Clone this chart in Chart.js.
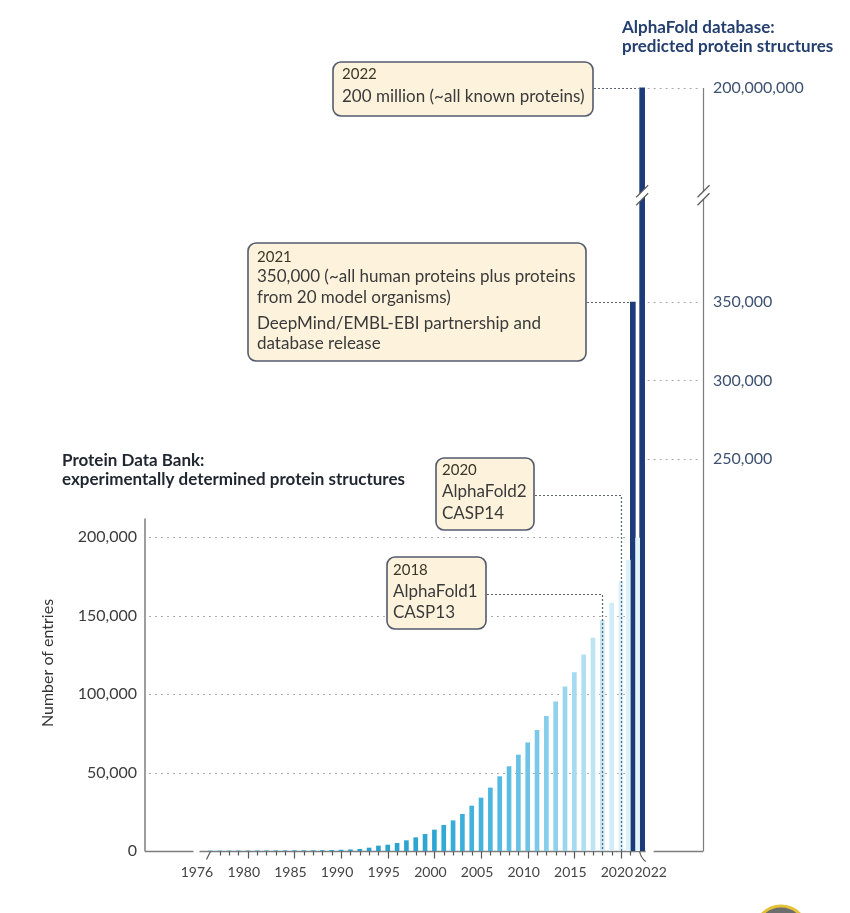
<!DOCTYPE html>
<html>
<head>
<meta charset="utf-8">
<title>Protein structures: PDB vs AlphaFold</title>
<script src="https://cdn.jsdelivr.net/npm/chart.js@4.4.0/dist/chart.umd.min.js"></script>
<style>
  html, body { margin: 0; padding: 0; background: #fff; }
  canvas { display: block; }
</style>
</head>
<body>
<canvas id="chart" width="850" height="913"></canvas>
<script>
// --- data -------------------------------------------------------------
const years = [1976, 1977, 1978, 1979, 1980, 1981, 1982, 1983, 1984, 1985,
  1986, 1987, 1988, 1989, 1990, 1991, 1992, 1993, 1994, 1995,
  1996, 1997, 1998, 1999, 2000, 2001, 2002, 2003, 2004, 2005,
  2006, 2007, 2008, 2009, 2010, 2011, 2012, 2013, 2014, 2015,
  2016, 2017, 2018, 2019, 2020, 2021, 2022];

// Protein Data Bank, cumulative number of entries
const pdbEntries = [13, 23, 38, 52, 69, 85, 122, 152, 176, 196,
  212, 238, 285, 398, 564, 772, 1100, 1900, 3200, 3800,
  4900, 6600, 8500, 10600, 13400, 16400, 19300, 23400, 28700, 33800,
  40200, 47400, 53800, 61200, 69000, 76900, 85800, 95100, 104700, 113700,
  125000, 135800, 147000, 158000, 172000, 185500, 199500];

// AlphaFold database
const afYears = [2021, 2022];
const afEntries = [350000, 200000000];

const leftTicks = [0, 50000, 100000, 150000, 200000];
const rightTicks = [250000, 300000, 350000, 200000000];
const xTickLabels = [1980, 1985, 1990, 1995, 2000, 2005, 2010, 2015, 2020];
const xEndLabels = [1976, 2022];

const noteYears = [2022, 2021, 2020, 2018];
const noteTexts = [
  ['2022', '200 million (~all known proteins)'],
  ['2021', '350,000 (~all human proteins plus proteins', 'from 20 model organisms)',
   'DeepMind/EMBL-EBI partnership and', 'database release'],
  ['2020', 'AlphaFold2', 'CASP14'],
  ['2018', 'AlphaFold1', 'CASP13']
];

// --- look -------------------------------------------------------------
const FONT = 'Lato, "Open Sans", sans-serif';
const NAVY = '#1c3b78';
const shadeStops = [[1990, [42, 158, 201]], [2000, [46, 166, 211]], [2006, [76, 182, 223]],
  [2010, [111, 196, 230]], [2014, [154, 213, 238]], [2017, [189, 228, 243]],
  [2020, [217, 240, 248]], [2022, [226, 244, 250]]];

function shade(yr) {
  if (yr <= shadeStops[0][0]) return `rgb(${shadeStops[0][1]})`;
  for (let i = 1; i < shadeStops.length; i++) {
    const [y1, c1] = shadeStops[i];
    const [y0, c0] = shadeStops[i - 1];
    if (yr <= y1) {
      const t = (yr - y0) / (y1 - y0);
      return 'rgb(' + c0.map((c, k) => Math.round(c + (c1[k] - c) * t)).join(',') + ')';
    }
  }
  return `rgb(${shadeStops[shadeStops.length - 1][1]})`;
}

// note boxes: x, y, w, h, text inset, line offsets
const boxes = {
  2022: { x: 333, y: 62, w: 260, h: 54, pad: 9, rows: [12, 35] },
  2021: { x: 248, y: 243, w: 338, h: 118, pad: 9, rows: [14, 34, 55, 81, 101] },
  2020: { x: 436, y: 458, w: 98, h: 72, pad: 6, rows: [12, 34, 56] },
  2018: { x: 387, y: 557, w: 99, h: 72, pad: 6, rows: [13, 35, 56] }
};

// --- broken linear scale (0..420k below the break, ~200M above) -------
const LOW_MAX = 420000;
const LOW_FRAC = 0.8435;
const UP_MIN = 199000000;
const UP_MAX = 200172000;

class BrokenScale extends Chart.LinearScale {
  static id = 'broken';
  static defaults = Chart.LinearScale.defaults;
  breakPixel() {
    return this.bottom - (this.bottom - this.top) * LOW_FRAC;
  }
  getPixelForValue(value) {
    const brk = this.breakPixel();
    if (value <= LOW_MAX) return this.bottom - (value / LOW_MAX) * (this.bottom - brk);
    const f = (value - UP_MIN) / (UP_MAX - UP_MIN);
    return brk - f * (brk - this.top);
  }
  getValueForPixel(pixel) {
    const brk = this.breakPixel();
    if (pixel >= brk) return (this.bottom - pixel) / (this.bottom - brk) * LOW_MAX;
    return UP_MIN + (brk - pixel) / (brk - this.top) * (UP_MAX - UP_MIN);
  }
}
Chart.register(BrokenScale);

// --- drawing helpers ---------------------------------------------------
function seg(ctx, x1, y1, x2, y2) {
  ctx.beginPath(); ctx.moveTo(x1, y1); ctx.lineTo(x2, y2); ctx.stroke();
}

function breakMark(ctx, cx, cy, half) {
  ctx.save();
  ctx.fillStyle = '#fff';
  ctx.beginPath();
  ctx.moveTo(cx - half, cy + 6 - 4);
  ctx.lineTo(cx + half, cy - 6 - 4);
  ctx.lineTo(cx + half, cy - 6 + 4);
  ctx.lineTo(cx - half, cy + 6 + 4);
  ctx.closePath();
  ctx.fill();
  ctx.strokeStyle = '#5a5a5a';
  ctx.lineWidth = 1.2;
  seg(ctx, cx - half, cy + 6 - 4, cx + half, cy - 6 - 4);
  seg(ctx, cx - half, cy + 6 + 4, cx + half, cy - 6 + 4);
  ctx.restore();
}

const decor = {
  id: 'decor',
  beforeDatasetsDraw(chart) {
    const { ctx, chartArea: area, scales: { x, y } } = chart;
    const base = Math.round(y.getPixelForValue(0)) + 0.5;
    ctx.save();

    // dotted gridlines
    ctx.strokeStyle = '#ababab';
    ctx.lineWidth = 1;
    ctx.setLineDash([2, 4]);
    leftTicks.slice(1).forEach(v => {
      const py = Math.round(y.getPixelForValue(v)) + 0.5;
      seg(ctx, area.left + 4, py, x.getPixelForValue(2021) - 4, py);
    });
    rightTicks.forEach(v => {
      const py = Math.round(y.getPixelForValue(v)) + 0.5;
      seg(ctx, x.getPixelForValue(2022) + 8, py, area.right - 3, py);
    });
    ctx.setLineDash([]);

    // axis lines
    ctx.strokeStyle = '#7d7d7d';
    ctx.lineWidth = 1.5;
    seg(ctx, area.left, y.getPixelForValue(212000), area.left, base);
    ctx.lineWidth = 1.2;
    seg(ctx, area.right + 0.5, y.getPixelForValue(200000000), area.right + 0.5, base);
    const x0 = x.getPixelForValue(1976), x1 = x.getPixelForValue(2022);
    ctx.lineWidth = 1.5;
    seg(ctx, area.left, base, x0 - 17, base);
    seg(ctx, x0 - 11, base, x1 + 6, base);
    seg(ctx, x1 + 14, base, area.right, base);

    // year ticks
    ctx.strokeStyle = '#555';
    ctx.lineWidth = 1.2;
    years.slice(1, -1).forEach(yr => {
      const px = Math.round(x.getPixelForValue(yr)) + 0.5;
      seg(ctx, px, base, px, base + (yr % 5 === 0 ? 7 : 4));
    });
    seg(ctx, x0, base, x0 - 4, base + 8);
    ctx.beginPath();
    ctx.moveTo(x1, base);
    ctx.quadraticCurveTo(x1 + 1, base + 6, x1 + 6, base + 10);
    ctx.stroke();

    // offset end labels
    ctx.fillStyle = '#444';
    ctx.font = `14px ${FONT}`;
    ctx.textAlign = 'center';
    ctx.textBaseline = 'middle';
    ctx.fillText(String(xEndLabels[0]), x0 - 13.5, base + 21);
    ctx.fillText(String(xEndLabels[1]), x1 + 11, base + 21);
    ctx.restore();
  },
  afterDatasetsDraw(chart) {
    const { ctx, chartArea: area, scales: { x, y } } = chart;
    const base = y.getPixelForValue(0);
    const brkY = y.getPixelForValue(UP_MIN) + 3;

    // scale breaks on the 2022 bar and the right axis
    breakMark(ctx, x.getPixelForValue(2022) + 2.5, brkY, 6);
    breakMark(ctx, area.right + 0.5, brkY, 6);

    // connectors from notes
    ctx.save();
    ctx.strokeStyle = '#5c6270';
    ctx.lineWidth = 1.2;
    ctx.setLineDash([2, 2]);
    noteYears.forEach(yr => {
      const b = boxes[yr];
      const px = x.getPixelForValue(yr);
      const afIdx = afYears.indexOf(yr);
      if (afIdx >= 0) {
        const py = Math.round(y.getPixelForValue(afEntries[afIdx])) + 0.5;
        seg(ctx, b.x + b.w + 1, py, px - 1, py);
      } else {
        const py = Math.round(b.y + b.h / 2 + 1) + 0.5;
        const vx = Math.round(px) + 0.5;
        ctx.beginPath();
        ctx.moveTo(b.x + b.w + 1, py);
        ctx.lineTo(vx, py);
        ctx.lineTo(vx, base);
        ctx.stroke();
      }
    });
    ctx.setLineDash([]);

    // note boxes
    noteYears.forEach((yr, i) => {
      const b = boxes[yr];
      ctx.beginPath();
      ctx.roundRect(b.x, b.y, b.w, b.h, 8);
      ctx.fillStyle = '#fdf3dc';
      ctx.fill();
      ctx.strokeStyle = '#535b6c';
      ctx.lineWidth = 1.6;
      ctx.stroke();
      ctx.textAlign = 'left';
      ctx.textBaseline = 'middle';
      noteTexts[i].forEach((t, k) => {
        ctx.font = k === 0 ? `15px ${FONT}` : `17px ${FONT}`;
        ctx.fillStyle = k === 0 ? '#3b3526' : '#3a3a3a';
        ctx.fillText(t, b.x + b.pad, b.y + b.rows[k]);
      });
    });
    ctx.restore();
  },
  afterDraw(chart) {
    const { ctx } = chart;
    ctx.save();
    ctx.textAlign = 'left';
    ctx.textBaseline = 'middle';
    ctx.font = `bold 17px ${FONT}`;
    ctx.fillStyle = '#243f6e';
    ctx.fillText('AlphaFold database:', 622, 28);
    ctx.fillText('predicted protein structures', 622, 47);
    ctx.fillStyle = '#1f2630';
    ctx.fillText('Protein Data Bank:', 62, 461);
    ctx.fillText('experimentally determined protein structures', 62, 480);

    ctx.translate(48, 663);
    ctx.rotate(-Math.PI / 2);
    ctx.textAlign = 'center';
    ctx.font = `16px ${FONT}`;
    ctx.fillStyle = '#333';
    ctx.fillText('Number of entries', 0, 0);
    ctx.restore();

    // corner badge peeking in at the bottom edge
    ctx.save();
    ctx.beginPath();
    ctx.arc(781, 932, 26, 0, Math.PI * 2);
    ctx.fillStyle = '#6d6d6d';
    ctx.fill();
    ctx.lineWidth = 3;
    ctx.strokeStyle = '#e3c23a';
    ctx.stroke();
    ctx.restore();
  }
};

// --- chart ------------------------------------------------------------
const pdbData = years.map((yr, i) => ({ x: yr, y: pdbEntries[i] }));
const afData = years.map(yr => {
  const k = afYears.indexOf(yr);
  return { x: yr, y: k >= 0 ? afEntries[k] : null };
});

new Chart(document.getElementById('chart'), {
  type: 'bar',
  data: {
    datasets: [
      {
        label: 'Protein Data Bank',
        data: pdbData,
        stack: 'pdb',
        barThickness: 4,
        backgroundColor: c => shade(c.raw ? c.raw.x : 2000),
        borderWidth: 0
      },
      {
        label: 'AlphaFold database',
        data: afData,
        stack: 'af',
        barThickness: 5,
        backgroundColor: NAVY,
        borderWidth: 0
      }
    ]
  },
  options: {
    responsive: false,
    animation: false,
    events: [],
    skipNull: true,
    layout: { padding: { top: 70, left: 0, right: 0, bottom: 0 } },
    plugins: { legend: { display: false }, tooltip: { enabled: false } },
    scales: {
      x: {
        type: 'linear',
        min: 1968.98,
        max: 2028.79,
        offset: false,
        bounds: 'data',
        afterBuildTicks: s => { s.ticks = xTickLabels.map(v => ({ value: v })); },
        afterFit: s => { s.height = 62; },
        grid: { display: false, drawTicks: false },
        border: { display: false },
        ticks: {
          autoSkip: false,
          maxRotation: 0,
          padding: 13,
          labelOffset: -4,
          color: '#444',
          font: { family: FONT, size: 14 },
          callback: v => String(v)
        }
      },
      y: {
        type: 'broken',
        position: 'left',
        min: 0,
        max: UP_MAX,
        bounds: 'data',
        afterBuildTicks: s => { s.ticks = leftTicks.map(v => ({ value: v })); },
        afterFit: s => { s.width = 145; },
        grid: { display: false, drawTicks: false },
        border: { display: false },
        ticks: {
          autoSkip: false,
          padding: 8,
          color: '#3c3c3c',
          font: { family: FONT, size: 16 },
          callback: v => v.toLocaleString('en-US')
        }
      },
      y2: {
        type: 'broken',
        position: 'right',
        min: 0,
        max: UP_MAX,
        bounds: 'data',
        afterBuildTicks: s => { s.ticks = rightTicks.map(v => ({ value: v })); },
        afterFit: s => { s.width = 147; },
        grid: { display: false, drawTicks: false },
        border: { display: false },
        ticks: {
          autoSkip: false,
          padding: 10,
          color: '#3e5170',
          font: { family: FONT, size: 16 },
          callback: v => v.toLocaleString('en-US')
        }
      }
    }
  },
  plugins: [decor]
});
</script>
</body>
</html>
